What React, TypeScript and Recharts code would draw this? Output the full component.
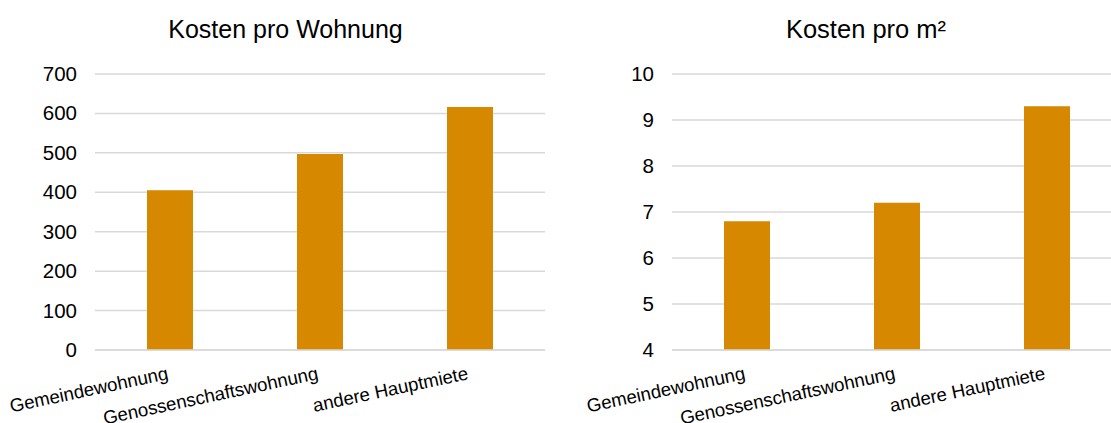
import React from 'react';
import { BarChart, Bar, XAxis, YAxis, CartesianGrid } from 'recharts';

const categories = ['Gemeindewohnung', 'Genossenschaftswohnung', 'andere Hauptmiete'];
const kostenProWohnung = [405, 497, 616];
const kostenProM2 = [6.8, 7.2, 9.3];
const wohnungTicks = [0, 100, 200, 300, 400, 500, 600, 700];
const m2Ticks = [4, 5, 6, 7, 8, 9, 10];
const titles = ['Kosten pro Wohnung', 'Kosten pro m²'];

const wohnungData = categories.map((name, i) => ({ name, value: kostenProWohnung[i] }));
const m2Data = categories.map((name, i) => ({ name, value: kostenProM2[i] }));

const FONT = '"Liberation Sans", Arial, sans-serif';
const BAR_COLOR = '#D58800';
const GRID = '#D9D9D9';

const XTick = (props: any) => {
  const { x, y, payload } = props;
  return (
    <g transform={`translate(${x - 1},${y + 29}) rotate(-12)`}>
      <text x={0} y={0} textAnchor="end" fontSize={18.6} fill="#000" fontFamily={FONT}>
        {payload.value}
      </text>
    </g>
  );
};

const YTick = (props: any) => {
  const { x, y, payload } = props;
  return (
    <text x={x} y={y} dy={7} textAnchor="end" fontSize={20.5} fill="#000" fontFamily={FONT}>
      {payload.value}
    </text>
  );
};

function Panel({ data, ticks, domain, yWidth, width }: any) {
  return (
    <BarChart
      width={width}
      height={423}
      data={data}
      margin={{ top: 74, right: 15, bottom: 0, left: 0 }}
      style={{ overflow: 'visible' }}
    >
      <CartesianGrid horizontal vertical={false} stroke={GRID} strokeWidth={1.5} />
      <XAxis
        dataKey="name"
        height={73}
        axisLine={{ stroke: GRID, strokeWidth: 1.5 }}
        tickLine={false}
        tickSize={0}
        tickMargin={0}
        interval={0}
        tick={<XTick />}
      />
      <YAxis
        width={yWidth}
        domain={domain}
        ticks={ticks}
        interval={0}
        axisLine={false}
        tickLine={false}
        tickSize={0}
        tickMargin={18}
        tick={<YTick />}
      />
      <Bar dataKey="value" fill={BAR_COLOR} barSize={46} isAnimationActive={false} />
    </BarChart>
  );
}

export default function App() {
  return (
    <div
      style={{
        position: 'absolute',
        left: 0,
        top: 0,
        width: 1111,
        height: 423,
        overflow: 'hidden',
        background: '#fff',
        fontFamily: FONT,
      }}
    >
      <div style={{ position: 'absolute', left: 0, top: 0 }}>
        <Panel data={wohnungData} ticks={wohnungTicks} domain={[0, 700]} yWidth={95} width={560} />
      </div>
      <div style={{ position: 'absolute', left: 560, top: 0 }}>
        <Panel data={m2Data} ticks={m2Ticks} domain={[4, 10]} yWidth={112} width={577} />
      </div>
      <svg
        width={1111}
        height={60}
        style={{ position: 'absolute', left: 0, top: 0, pointerEvents: 'none' }}
      >
        <text x={285.5} y={38} textAnchor="middle" fontSize={25} fill="#000" fontFamily={FONT}>
          {titles[0]}
        </text>
        <text x={866} y={38} textAnchor="middle" fontSize={25.5} fill="#000" fontFamily={FONT}>
          {titles[1]}
        </text>
      </svg>
    </div>
  );
}
